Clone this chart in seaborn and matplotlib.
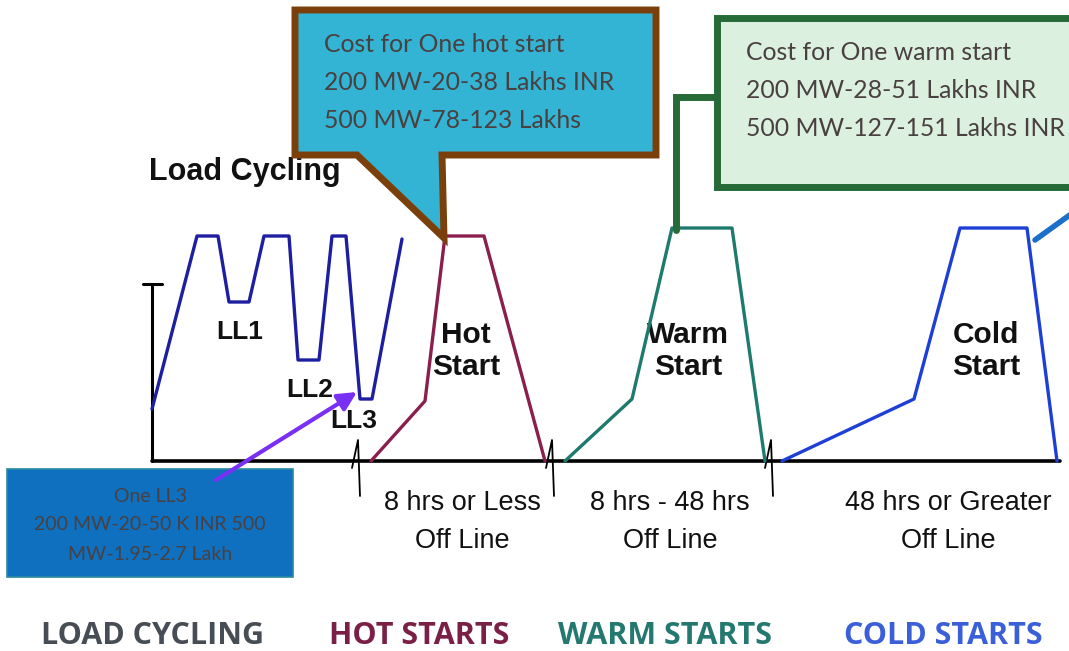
import pandas as pd
import matplotlib.pyplot as plt
from matplotlib.patches import Polygon, Rectangle
import seaborn as sns

# load profiles: time (arbitrary units) vs load above the off-line baseline
lc_time = [152, 197, 218, 229, 249, 264, 289, 298, 319, 332, 346, 360, 372, 402]
lc_load = [52, 225, 225, 159, 159, 225, 225, 101, 101, 225, 225, 62, 62, 222]
hot_time = [371, 425, 445, 484, 545]
hot_load = [0, 60, 225, 225, 0]
warm_time = [565, 632, 672, 732, 765]
warm_load = [0, 62, 233, 233, 0]
cold_time = [782, 914, 960, 1027, 1057]
cold_load = [0, 62, 233, 233, 0]
break_time = [359, 553, 772]

phases = ['Load Cycling', 'Hot Start', 'Warm Start', 'Cold Start']
phase_colors = ['#1e1ea0', '#8a1f4e', '#1f7a6e', '#1d3fd6']
phase_labels = ['Hot\nStart', 'Warm\nStart', 'Cold\nStart']
ll_labels = ['LL1', 'LL2', 'LL3']
offline_labels = ['8 hrs or Less\nOff Line', '8 hrs - 48 hrs\nOff Line',
                  '48 hrs or Greater\nOff Line']
category_labels = ['LOAD CYCLING', 'HOT STARTS', 'WARM STARTS', 'COLD STARTS']
category_colors = ['#474d55', '#7a1f45', '#23786f', '#3a5fd9']
hot_cost = ['Cost for One hot start', '200 MW-20-38 Lakhs INR', '500 MW-78-123 Lakhs']
warm_cost = ['Cost for One warm start', '200 MW-28-51 Lakhs INR', '500 MW-127-151 Lakhs INR']
ll3_cost = ['One LL3', '200 MW-20-50 K INR 500', 'MW-1.95-2.7 Lakh']

df = pd.concat([
    pd.DataFrame({'time': lc_time, 'load': lc_load, 'phase': phases[0]}),
    pd.DataFrame({'time': hot_time, 'load': hot_load, 'phase': phases[1]}),
    pd.DataFrame({'time': warm_time, 'load': warm_load, 'phase': phases[2]}),
    pd.DataFrame({'time': cold_time, 'load': cold_load, 'phase': phases[3]}),
], ignore_index=True)

sns.set_style('white')
fig = plt.figure(figsize=(10.69, 6.51), dpi=100)
ax = fig.add_axes([0, 0, 1, 1])
ax.set_xlim(0, 1069)
ax.set_ylim(-190, 461)
ax.axis('off')


def Y(py):
    # page row -> load units (baseline sits at row 461)
    return 461 - py


bold_font = ['Liberation Sans Narrow', 'Liberation Sans', 'DejaVu Sans']
plain_font = ['Liberation Sans', 'DejaVu Sans']
box_font = ['Lato', 'DejaVu Sans']

# axis: baseline + short load axis with a cap
ax.plot([152, 1060], [0, 0], color='black', lw=2.6, zorder=2)
ax.plot([152, 152], [0, Y(284)], color='black', lw=2.2, zorder=2)
ax.plot([143, 162], [Y(284), Y(284)], color='black', lw=2.2, zorder=2)
for t in break_time:
    ax.plot([t - 7, t - 1, t + 1], [Y(468), Y(440), Y(496)], color='black', lw=1.3, zorder=3)

sns.lineplot(data=df, x='time', y='load', hue='phase', palette=phase_colors,
             hue_order=phases, sort=False, estimator=None, lw=2.4,
             legend=False, ax=ax, zorder=4)

ax.text(245, Y(172), 'Load Cycling', family=bold_font, weight='bold', fontsize=22,
        ha='center', va='center', color='#111111')
for lab, x, py in zip(ll_labels, [240, 310, 354], [332, 390, 421]):
    ax.text(x, Y(py), lab, family=bold_font, weight='bold', fontsize=19,
            ha='center', va='center', color='#111111')
for lab, x in zip(phase_labels, [466, 688, 986]):
    ax.text(x, Y(351), lab, family=bold_font, weight='bold', fontsize=21.5,
            ha='center', va='center', color='#111111', linespacing=1.2)
for lab, x in zip(offline_labels, [462, 670, 948]):
    ax.text(x, Y(522), lab, family=plain_font, fontsize=19.5, ha='center',
            va='center', color='#111111', linespacing=1.55)
for lab, x, c in zip(category_labels, [153, 419, 665, 943], category_colors):
    ax.text(x, Y(636), lab, family=['Open Sans', 'DejaVu Sans'], weight='bold',
            fontsize=22, ha='center', va='center', color=c)

# hot start callout with pointer to the hot start peak
tip = (hot_time[2] - 1, hot_load[2] - 2)
hot_box = [(295, 10), (656, 10), (656, 155), (442, 155), tip, (357, 155), (295, 155)]
hot_box = [p if p is tip else (p[0], Y(p[1])) for p in hot_box]
ax.add_patch(Polygon(hot_box, closed=True, facecolor='#33b4d4', edgecolor='#7b3f0b',
                     lw=5, joinstyle='miter', zorder=6))
for i, line in enumerate(hot_cost):
    ax.text(324, Y(44 + 38 * i), line, family=box_font, fontsize=17.8, ha='left',
            va='center', color='#4a4040', zorder=7)

# warm start callout, connector down to warm plateau
ax.plot([676, 676, 717], [warm_load[2] - 2, Y(97), Y(97)], color='#266a37', lw=5,
        solid_joinstyle='miter', zorder=6)
ax.add_patch(Rectangle((717, Y(187)), 400, 169, facecolor='#dbf0df',
                       edgecolor='#266a37', lw=5, joinstyle='miter', zorder=6))
for i, line in enumerate(warm_cost):
    ax.text(746, Y(52 + 38 * i), line, family=box_font, fontsize=17.8, ha='left',
            va='center', color='#4a4040', zorder=7)

# cold start connector leaving the page
ax.plot([cold_time[3] + 8, 1085], [cold_load[3] - 12, Y(204)], color='#1b6fc8', lw=4,
        zorder=6)

# LL3 cost box + arrow
ax.add_patch(Rectangle((7, Y(577)), 286, 108, facecolor='#0e70be',
                       edgecolor='#2a8aa0', lw=1.2, zorder=6))
for i, line in enumerate(ll3_cost):
    ax.text(150, Y(496 + 29 * i), line, family=box_font, fontsize=14, ha='center',
            va='center', color='#4a4040', zorder=7)
ax.annotate('', xy=(lc_time[11] - 3, lc_load[11] + 7), xytext=(216, Y(480)),
            arrowprops=dict(arrowstyle='-|>', color='#7a2ff5', lw=3,
                            mutation_scale=28, shrinkA=0, shrinkB=0), zorder=8)

fig.savefig('out.png', dpi=100)
